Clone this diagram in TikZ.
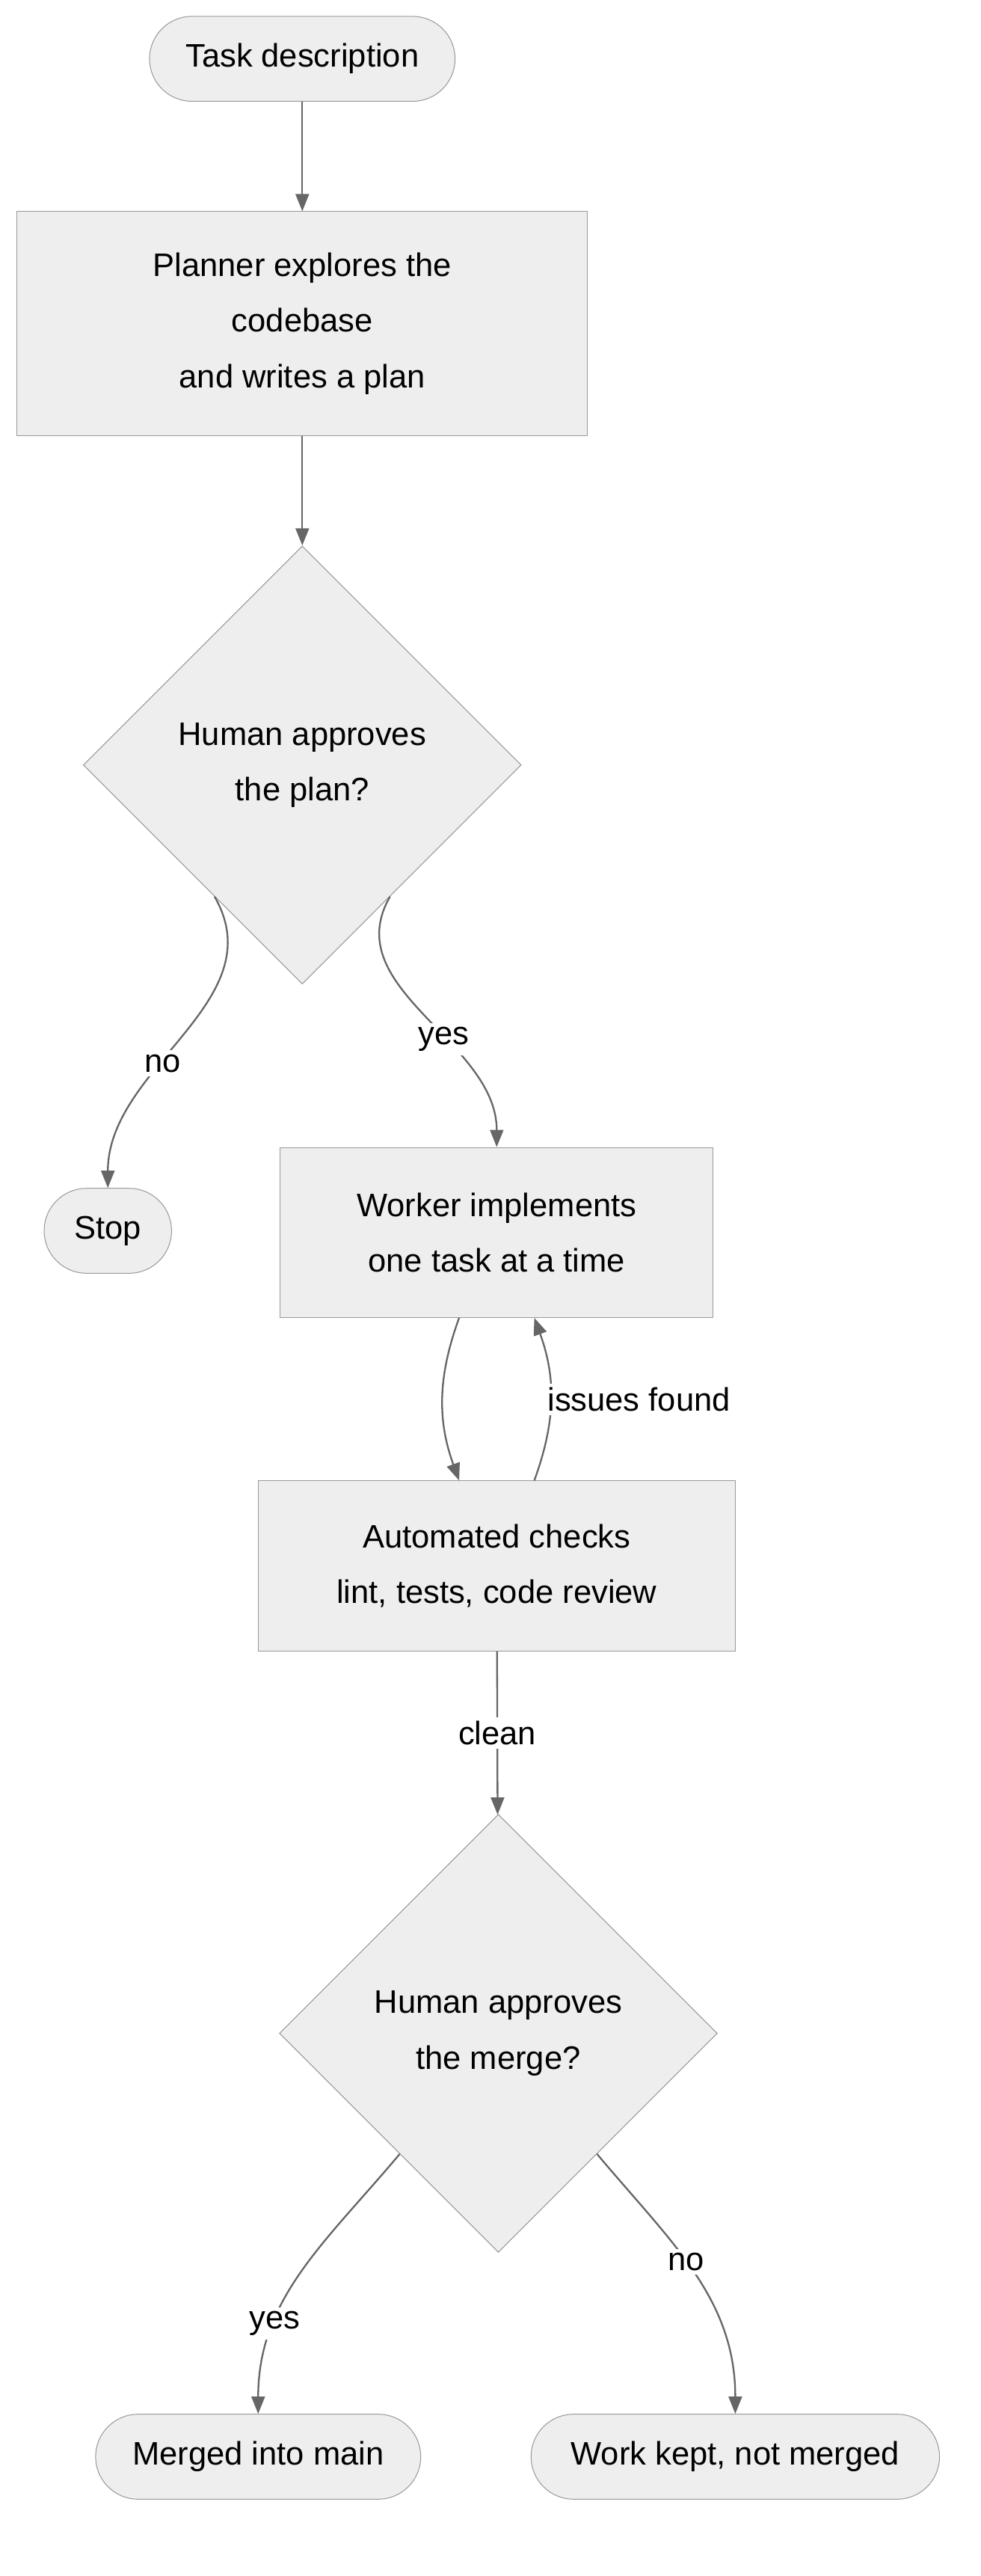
\documentclass[tikz,border=0pt]{standalone}
\usepackage{fontspec}
\setmainfont{Liberation Sans}
\usetikzlibrary{calc,shapes.geometric,arrows.meta}
\definecolor{boxfill}{HTML}{EEEEEE}
\definecolor{boxline}{HTML}{999999}
\definecolor{arrowline}{HTML}{666666}
\tikzset{
  stadium/.style={draw=boxline,fill=boxfill,rounded corners=0.78cm,minimum height=1.56cm,inner sep=0pt,align=center},
  procbox/.style={draw=boxline,fill=boxfill,inner sep=0pt,align=center},
  decision/.style={draw=boxline,fill=boxfill,diamond,inner sep=0pt,minimum width=8.04cm,minimum height=8.04cm,align=center},
  flow/.style={draw=arrowline,line width=0.9pt,-{Triangle[length=9pt,width=7pt]}},
  edgelabel/.style={fill=white,inner sep=2pt}
}
\begin{document}
\begin{tikzpicture}[x=0.03cm,y=-0.03cm,font=\fontsize{17}{29}\selectfont]
  \useasboundingbox (0,0) rectangle (600,1576);

  % nodes
  \node[stadium,minimum width=5.61cm] (task) at (185,36) {Task description};
  \node[procbox,minimum width=10.47cm,minimum height=4.11cm] (plan) at (185,198) {Planner explores the\\codebase\\and writes a plan};
  \node[decision] (approve) at (185,468) {Human approves\\the plan?};
  \node[stadium,minimum width=2.34cm] (stop) at (66,753) {Stop};
  \node[procbox,minimum width=7.95cm,minimum height=3.12cm] (worker) at (304,754) {Worker implements\\one task at a time};
  \node[procbox,minimum width=8.76cm,minimum height=3.12cm] (checks) at (304,958) {Automated checks\\lint, tests, code review};
  \node[decision] (merge) at (305,1244) {Human approves\\the merge?};
  \node[stadium,minimum width=5.97cm] (merged) at (158,1503) {Merged into main};
  \node[stadium,minimum width=7.5cm] (kept) at (450,1503) {Work kept, not merged};

  % connectors
  \draw[flow] (task) -- (plan);
  \draw[flow] (plan) -- (approve);
  \draw[flow] ($(approve.west)!0.6!(approve.south)$) to[out=-60,in=90]
    node[edgelabel,pos=0.6] {no} (stop.north);
  \draw[flow] ($(approve.east)!0.6!(approve.south)$) to[out=-120,in=90]
    node[edgelabel,pos=0.6] {yes} (worker.north);
  \draw[flow] ($(worker.south)+(-23,0)$) to[out=-110,in=110] ($(checks.north)+(-23,0)$);
  \draw[flow] ($(checks.north)+(23,0)$) to[out=70,in=-70]
    node[edgelabel,right,xshift=-4pt] {issues found} ($(worker.south)+(23,0)$);
  \draw[flow] (checks) -- node[edgelabel] {clean} (merge);
  \draw[flow] ($(merge.west)!0.55!(merge.south)$) to[out=-130,in=90]
    node[edgelabel,pos=0.7] {yes} (merged.north);
  \draw[flow] ($(merge.east)!0.55!(merge.south)$) to[out=-50,in=90]
    node[edgelabel,pos=0.45] {no} (kept.north);
\end{tikzpicture}
\end{document}
